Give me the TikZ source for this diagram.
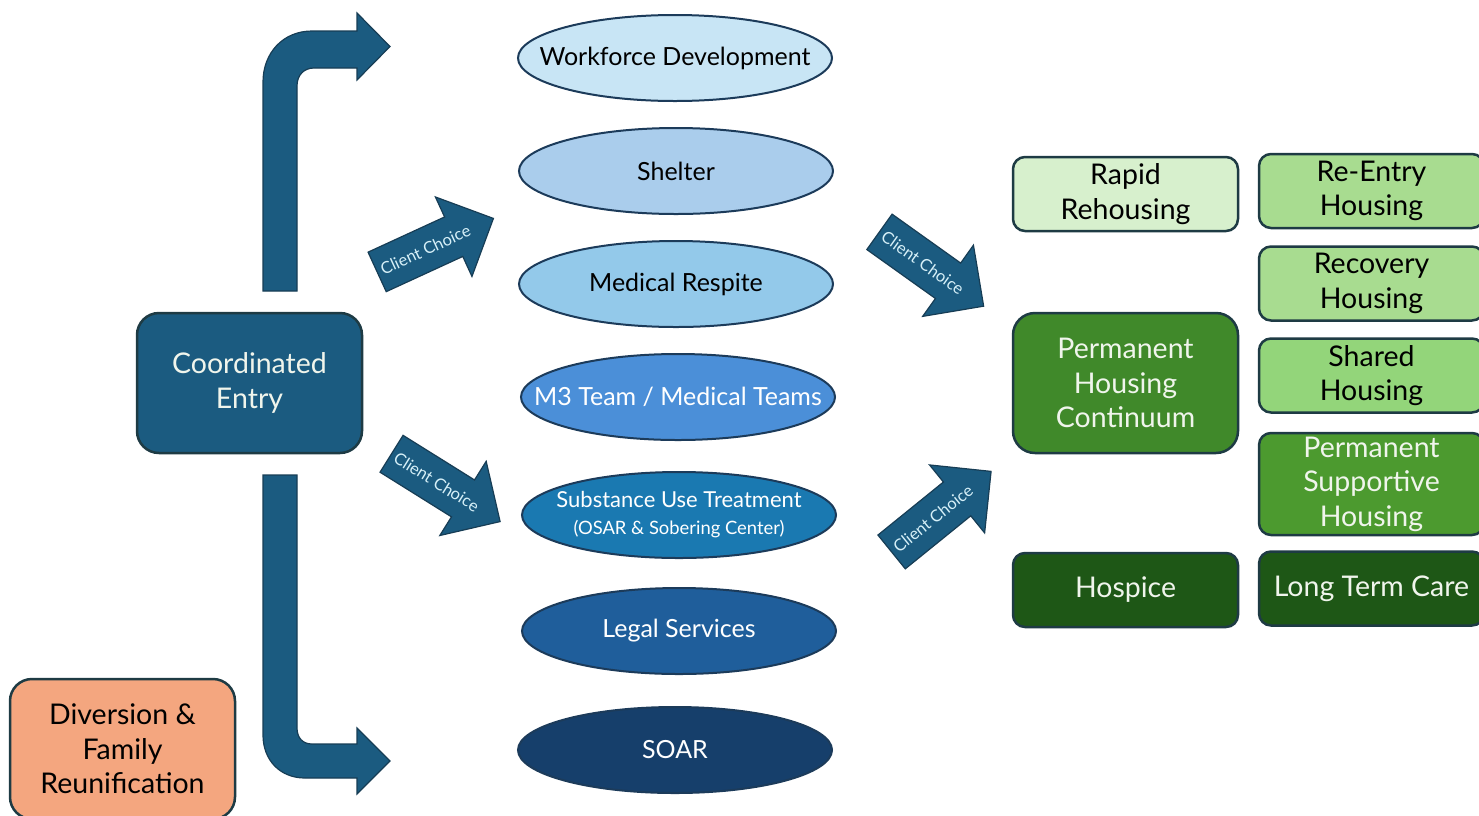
\documentclass[tikz,border=0pt]{standalone}
\usepackage{fontspec}
\setmainfont{Lato}
\usetikzlibrary{shapes.geometric,shapes.arrows}

\definecolor{arrowblue}{HTML}{1B5B80}
\definecolor{arrowedge}{HTML}{173D55}
\definecolor{choicetext}{HTML}{D6F0F8}
\definecolor{ovaledge}{HTML}{1C3B5A}
\definecolor{wfblue}{HTML}{C8E5F5}
\definecolor{shelterblue}{HTML}{AACDEC}
\definecolor{respiteblue}{HTML}{93C9EA}
\definecolor{mthreeblue}{HTML}{4B8FD8}
\definecolor{subuseblue}{HTML}{1A79B1}
\definecolor{legalblue}{HTML}{1F5E9B}
\definecolor{soarblue}{HTML}{163F6B}
\definecolor{cardedge}{HTML}{1E3B44}
\definecolor{rrgreen}{HTML}{D7F0CD}
\definecolor{lightgreen}{HTML}{A8DC90}
\definecolor{sharedgreen}{HTML}{93D57A}
\definecolor{pshgreen}{HTML}{4C9A2F}
\definecolor{phcgreen}{HTML}{40892A}
\definecolor{darkgreen}{HTML}{1E5716}
\definecolor{salmon}{HTML}{F4A67F}
\definecolor{paletext}{HTML}{F0F5EC}

\begin{document}
\begin{tikzpicture}[x=1pt, y=-1pt,
    every node/.style={align=center, font=\fontsize{25}{29}\selectfont},
    oval/.style={ellipse, draw=ovaledge, line width=2pt, minimum width=314pt, minimum height=86pt, inner xsep=-40pt, inner ysep=0pt},
    card/.style={rounded corners=12pt, draw=cardedge, line width=2.5pt, minimum width=225pt, minimum height=74pt, inner sep=0pt, font=\fontsize{28.5}{34.5}\selectfont},
    bigcard/.style={card, rounded corners=22pt, minimum height=140pt},
    choice/.style={single arrow, fill=arrowblue, draw=arrowedge, line width=1.2pt, text=choicetext, font=\fontsize{16.5}{18}\selectfont, minimum height=128pt, inner xsep=4pt, inner ysep=15pt, single arrow head extend=22pt, single arrow tip angle=90},
    bent/.style={fill=arrowblue, draw=arrowedge, line width=1.2pt}]
  \useasboundingbox (0,0) rectangle (1479,815);
  \clip (0,0) rectangle (1479,815);

  % services
  \node[oval, fill=wfblue] (wd) at (675,58) {Workforce Development};
  \node[oval, fill=shelterblue] (shelter) at (676,171) {Shelter};
  \node[oval, fill=respiteblue] (respite) at (676,284) {Medical Respite};
  \node[oval, fill=mthreeblue, text=white] (mthree) at (678,397) {M3 Team / Medical Teams};
  \node[oval, fill=subuseblue, text=white] (subuse) at (679,515) {{\fontsize{22}{25}\selectfont Substance Use Treatment}\\[-2pt]{\fontsize{18.4}{20}\selectfont (OSAR \& Sobering Center)}};
  \node[oval, fill=legalblue, text=white] (legal) at (679,631) {Legal Services};
  \node[oval, fill=soarblue, text=white] (soar) at (675,750) {SOAR};

  % entry and diversion
  \node[bigcard, fill=arrowblue, text=paletext] (ce) at (249.5,383) {Coordinated\\Entry};
  \node[bigcard, fill=salmon] (div) at (122.5,749) {Diversion \&\\Family\\Reunification};

  % housing
  \node[card, fill=rrgreen] (rrh) at (1125.5,194) {Rapid\\Rehousing};
  \node[bigcard, fill=phcgreen, text=paletext] (phc) at (1125.5,383) {Permanent\\Housing\\Continuum};
  \node[card, fill=darkgreen, text=paletext] (hospice) at (1125.5,590) {Hospice};
  \node[card, fill=lightgreen] (reentry) at (1371.5,191) {Re-Entry\\Housing};
  \node[card, fill=lightgreen] (recovery) at (1371.5,283.5) {Recovery\\Housing};
  \node[card, fill=sharedgreen] (shared) at (1371.5,375.5) {Shared\\Housing};
  \node[card, fill=pshgreen, text=paletext, minimum height=102pt] (psh) at (1371.5,484) {Permanent\\Supportive\\Housing};
  \node[card, fill=darkgreen, text=paletext] (ltc) at (1371.5,588.5) {Long Term Care};

  % bent arrows
  \draw[bent] (263,291) -- (263,82) .. controls (263,53) and (283,31) .. (312,31) -- (357,31) -- (357,13) -- (390,46.5) -- (357,80) -- (357,68) -- (314,68) .. controls (304,68) and (297,75) .. (297,86) -- (297,291) -- cycle;
  \draw[bent] (263,475) -- (263,735) .. controls (263,760) and (280,778) .. (305,778) -- (357,778) -- (357,794) -- (390,761) -- (357,728) -- (357,744) -- (312,744) .. controls (303,744) and (297,738) .. (297,728) -- (297,475) -- cycle;

  % client choice arrows
  \node[choice, rotate=24.7] (cc1) at (425.4,249.7) {Client Choice};
  \node[choice, rotate=-32] (cc2) at (436.6,481.9) {Client Choice};
  \node[choice, rotate=-35.5] (cc3) at (922.7,262.7) {Client Choice};
  \node[choice, rotate=39] (cc4) at (932.9,518.5) {Client Choice};
\end{tikzpicture}
\end{document}
